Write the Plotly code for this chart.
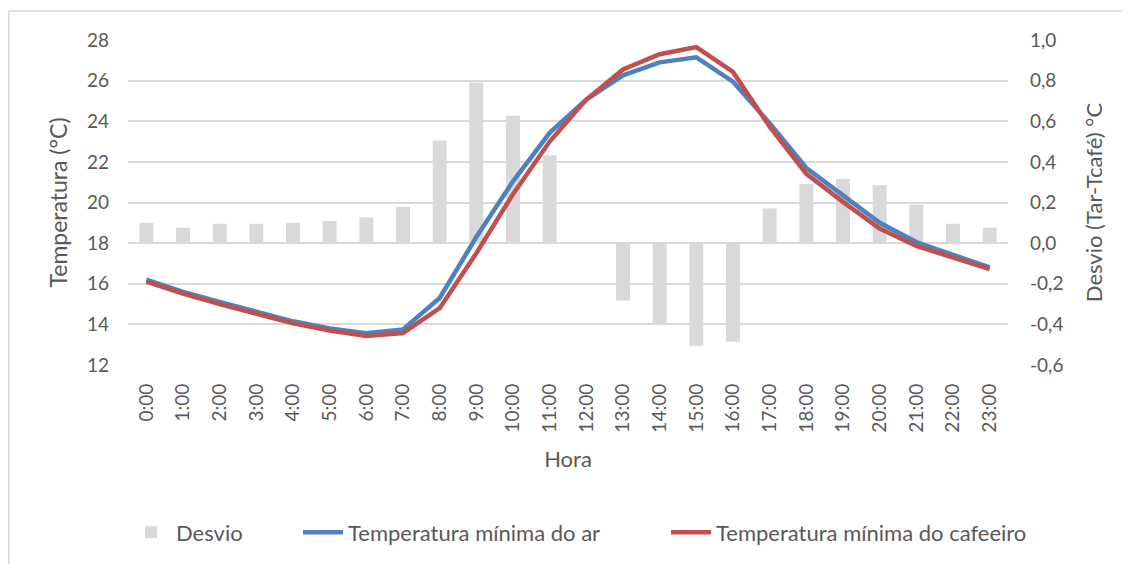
import plotly.graph_objects as go

horas = [f"{h}:00" for h in range(24)]

desvio = [0.10, 0.076, 0.095, 0.095, 0.10, 0.109, 0.127, 0.178, 0.505, 0.791, 0.627, 0.433,
          0.0, -0.283, -0.403, -0.505, -0.485, 0.171, 0.291, 0.316, 0.285, 0.189, 0.095, 0.076]

temp_ar = [16.20, 15.60, 15.10, 14.60, 14.15, 13.80, 13.56, 13.75, 15.30, 18.30, 21.04, 23.43,
           25.07, 26.26, 26.90, 27.15, 25.95, 23.90, 21.70, 20.35, 19.00, 18.05, 17.40, 16.80]

temp_cafe = [16.10, 15.52, 15.00, 14.50, 14.05, 13.70, 13.43, 13.57, 14.80, 17.50, 20.41, 23.00,
             25.07, 26.55, 27.30, 27.65, 26.43, 23.73, 21.41, 20.03, 18.72, 17.86, 17.30, 16.72]

desvio_ticks = [-0.6, -0.4, -0.2, 0.0, 0.2, 0.4, 0.6, 0.8, 1.0]
desvio_labels = ['-0,6', '-0,4', '-0,2', '0,0', '0,2', '0,4', '0,6', '0,8', '1,0']

grey_txt = '#595959'
font_name = 'Lato'

# page adds ~8px around the figure, so margins are shifted to compensate
ml, mt, pw, ph = 120, 32, 880, 325


def px_to_paper(px):
    # screen pixel -> paper x
    return (px - 8 - ml) / pw


fig = go.Figure()

# bars on the primary axis (drawn below), temperatures on the overlaying axis
fig.add_trace(go.Bar(x=horas, y=desvio, name='Desvio',
                     marker_color='#d9d9d9', marker_line_width=0,
                     width=0.38, yaxis='y', legend='legend', showlegend=True))
fig.add_trace(go.Scatter(x=horas, y=temp_ar, name='Temperatura mínima do ar',
                         mode='lines', line=dict(color='#4f81bd', width=4.5),
                         yaxis='y2', legend='legend2', showlegend=True))
fig.add_trace(go.Scatter(x=horas, y=temp_cafe, name='Temperatura mínima do cafeeiro',
                         mode='lines', line=dict(color='#c0504d', width=4.5),
                         yaxis='y2', legend='legend3', showlegend=True))

leg_style = dict(orientation='h', y=-0.515, yanchor='middle', xanchor='left',
                 font=dict(size=22, color=grey_txt), itemwidth=40,
                 bgcolor='rgba(0,0,0,0)')

fig.update_layout(
    width=1130, height=564,
    showlegend=True,
    margin=dict(l=ml, r=1130 - ml - pw, t=mt, b=564 - mt - ph),
    paper_bgcolor='white',
    plot_bgcolor='white',
    font=dict(family=font_name, color=grey_txt, size=19),
    xaxis=dict(
        type='category',
        tickangle=-90,
        tickfont=dict(size=19, color=grey_txt),
        showgrid=False,
        showline=False,
        ticks='',
        ticklabelstandoff=14,
        title=dict(text='Hora', font=dict(size=22, color=grey_txt), standoff=19),
    ),
    yaxis=dict(
        side='right',
        range=[-0.6, 1.0],
        tickvals=desvio_ticks,
        ticktext=desvio_labels,
        showgrid=False,
        zeroline=False,
        ticklabelstandoff=21,
        tickfont=dict(size=19, color=grey_txt),
        title=dict(text='Desvio (Tar-Tcafé) °C', font=dict(size=22, color=grey_txt), standoff=24),
    ),
    yaxis2=dict(
        side='left',
        overlaying='y',
        range=[12, 28],
        dtick=2,
        showgrid=True,
        gridcolor='#d9d9d9',
        gridwidth=1.5,
        zeroline=False,
        ticklabelstandoff=18,
        tickfont=dict(size=19, color=grey_txt),
        title=dict(text='Temperatura (°C)', font=dict(size=23, color=grey_txt), standoff=12),
    ),
    legend=dict(x=px_to_paper(126), **leg_style),
    legend2=dict(x=px_to_paper(298), **leg_style),
    legend3=dict(x=px_to_paper(666), **leg_style),
    bargap=0.62,
)

# outer chart frame (only top and left edges are inside the picture)
frame_x = (0.75 - ml) / pw
frame_y = (mt + ph - 3) / ph
fig.add_shape(type='line', xref='paper', yref='paper',
              x0=frame_x, x1=1.3, y0=frame_y, y1=frame_y,
              line=dict(color='#d9d9d9', width=1.5))
fig.add_shape(type='line', xref='paper', yref='paper',
              x0=frame_x, x1=frame_x, y0=frame_y, y1=-0.8,
              line=dict(color='#d9d9d9', width=1.5))

fig.write_html("out.html")
